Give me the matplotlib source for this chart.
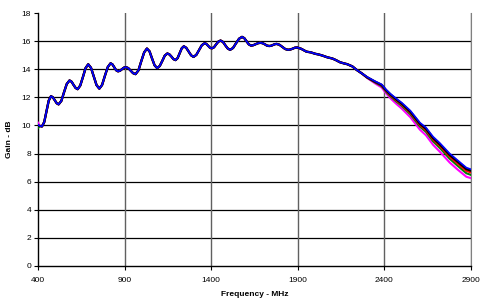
import matplotlib
matplotlib.use("Agg")
import matplotlib.pyplot as plt

# ---- data ----
freq_start = [400]
freq_front = [411, 423, 436, 449, 462, 475, 486, 497, 508, 519, 535, 550, 566, 582,
              594, 605, 617, 629, 644, 660, 675, 690, 706, 722, 738, 754, 770, 786, 803,
              819, 830, 840, 851, 862, 873, 884, 896, 907, 921, 935, 949, 963, 980, 996,
              1013, 1029, 1044, 1058, 1073, 1088, 1103, 1118, 1132, 1147, 1159, 1171, 1182,
              1194, 1206, 1218, 1230, 1242, 1256, 1270, 1284, 1298, 1314, 1330, 1346, 1362,
              1372, 1382, 1393, 1403, 1416, 1428, 1441, 1454, 1468, 1481, 1495, 1509, 1526,
              1543, 1561, 1578, 1591, 1604, 1617, 1630, 1643, 1657, 1670, 1684, 1697, 1710,
              1722, 1735, 1746, 1756, 1767, 1778, 1794, 1810, 1827, 1843, 1856, 1870, 1883,
              1897, 1920, 1950, 1975, 2000, 2020, 2040, 2070, 2100, 2120, 2143, 2165, 2185,
              2215, 2240, 2270]
gain_front = [9.96, 9.93, 10.24, 11.0, 11.77, 12.08, 12.0, 11.79, 11.58, 11.5, 11.75, 12.35, 12.95, 13.2,
              13.11, 12.89, 12.67, 12.58, 12.84, 13.47, 14.09, 14.35, 14.1, 13.49, 12.87, 12.62, 12.88, 13.52, 14.16,
              14.42, 14.34, 14.14, 13.93, 13.85, 13.89, 14.0, 14.11, 14.15, 14.08, 13.9, 13.72, 13.65, 13.92, 14.56,
              15.2, 15.47, 15.27, 14.78, 14.28, 14.08, 14.23, 14.6, 14.97, 15.12, 15.05, 14.89, 14.72,
              14.65, 14.79, 15.14, 15.49, 15.63, 15.52, 15.26, 14.99, 14.88, 15.02, 15.37, 15.71, 15.85,
              15.8, 15.67, 15.53, 15.48, 15.56, 15.76, 15.96, 16.04, 15.94, 15.71, 15.48, 15.38, 15.51,
              15.84, 16.17, 16.3, 16.21, 15.99, 15.77, 15.68, 15.71, 15.78, 15.85, 15.88, 15.85, 15.77,
              15.68, 15.65, 15.67, 15.72, 15.78, 15.8, 15.74, 15.59, 15.44, 15.38, 15.4, 15.46, 15.53,
              15.55, 15.45, 15.25, 15.2, 15.1, 15.05, 14.98, 14.85, 14.76, 14.65, 14.5, 14.42, 14.36,
              14.2, 13.95, 13.7]
freq_tail = [2300, 2345, 2384, 2410, 2435, 2470, 2500, 2550, 2605, 2640, 2681, 2720, 2777, 2820, 2873, 2900]

start_blue, start_black, start_red, start_green, start_magenta = 10.05, 10.0, 10.0, 9.82, 10.2
tail_blue = [13.45, 13.15, 12.92, 12.55, 12.25, 11.9, 11.62, 11.05, 10.2, 9.85, 9.2, 8.75, 8.0, 7.55, 7.0, 6.88]
tail_black = [13.43, 13.12, 12.88, 12.5, 12.2, 11.84, 11.55, 10.97, 10.12, 9.76, 9.1, 8.65, 7.9, 7.45, 6.9, 6.78]
tail_red = [13.42, 13.1, 12.85, 12.46, 12.14, 11.77, 11.48, 10.89, 10.03, 9.66, 9.0, 8.54, 7.78, 7.32, 6.77, 6.65]
tail_green = [13.4, 13.07, 12.8, 12.4, 12.07, 11.69, 11.39, 10.79, 9.92, 9.54, 8.87, 8.4, 7.63, 7.16, 6.6, 6.48]
tail_magenta = [13.38, 13.0, 12.7, 12.28, 11.93, 11.52, 11.2, 10.58, 9.7, 9.3, 8.62, 8.13, 7.36, 6.89, 6.35, 6.25]

x_ticks = [400, 900, 1400, 1900, 2400, 2900]
y_ticks = [0, 2, 4, 6, 8, 10, 12, 14, 16, 18]

freq = freq_start + freq_front + freq_tail
series = [
    ("#FF00FF", [start_magenta] + gain_front + tail_magenta, 1.5),
    ("#008000", [start_green] + gain_front + tail_green, 1.5),
    ("#FF0000", [start_red] + gain_front + tail_red, 1.5),
    ("#000000", [start_black] + gain_front + tail_black, 1.7),
    ("#0000FF", [start_blue] + gain_front + tail_blue, 1.2),
]

plt.rcParams['font.family'] = ['Liberation Sans', 'DejaVu Sans']
fig = plt.figure(figsize=(4.8, 3.0), dpi=100)
ax = fig.add_axes([38/480, 1-266/300, (471-38)/480, (266-13)/300])

for c, g, lw in series:
    ax.plot(freq, g, color=c, lw=lw, solid_joinstyle='round', zorder=3)

ax.set_xlim(400, 2900)
ax.set_ylim(0, 18)
ax.set_xticks(x_ticks)
ax.set_yticks(y_ticks)
ax.tick_params(labelsize=6, length=3, width=0.8, pad=2, color='black')
ax.tick_params(axis='x', pad=5)

for y in y_ticks[1:-1]:
    ax.axhline(y, color='black', lw=0.9, zorder=1)
for x in x_ticks[1:]:
    ax.axvline(x, color='#606060', lw=1.0, zorder=1)

ax.spines['top'].set_visible(False)
ax.spines['right'].set_color('#808080')
ax.spines['left'].set_linewidth(1.0)
ax.spines['bottom'].set_linewidth(1.0)

ax.set_xlabel('Frequency - MHz', fontsize=6, fontweight='bold', labelpad=5)
ax.set_ylabel('Gain - dB', fontsize=6, fontweight='bold', labelpad=6)

fig.savefig('out.png', dpi=100)
